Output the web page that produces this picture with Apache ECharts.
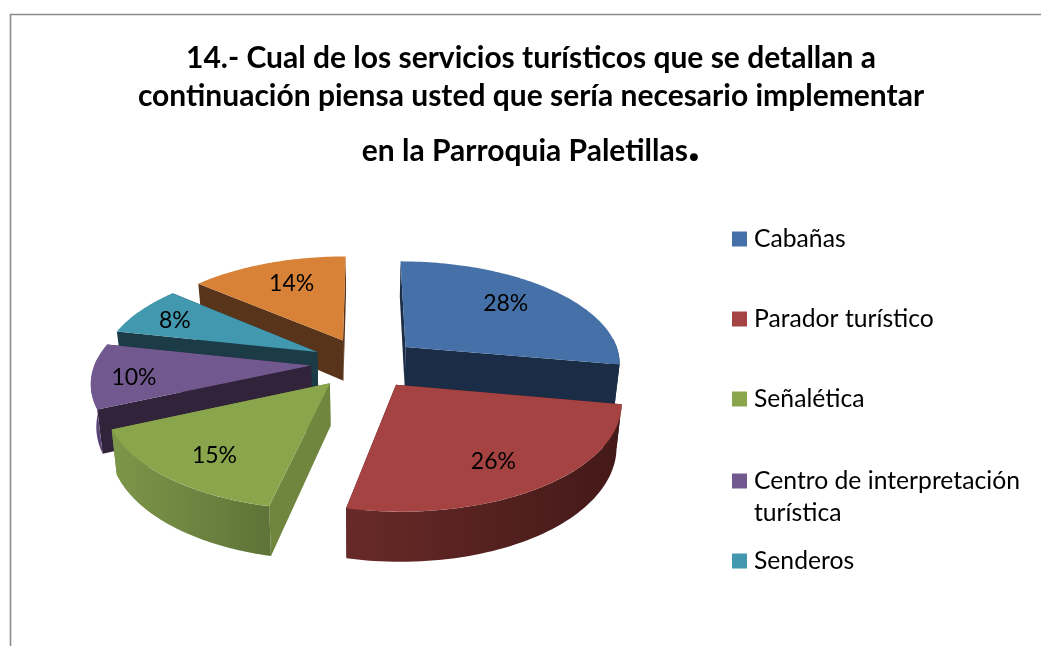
<!DOCTYPE html>
<html>
<head>
<meta charset="utf-8">
<style>html,body{margin:0;padding:0;background:#fff;overflow:hidden}#c{width:1041px;height:646px}</style>
<script src="https://cdn.jsdelivr.net/npm/echarts@6/dist/echarts.min.js"></script>
</head>
<body>
<div id="c"></div>
<script>
// ---- data ----
const titleLines = [
  '14.- Cual de los servicios turísticos que se detallan a',
  'continuación piensa usted que sería necesario implementar',
  'en la Parroquia Paletillas'
];
const categories = ['Cabañas', 'Parador turístico', 'Señalética', 'Centro de interpretación\nturística', 'Senderos', 'Otros'];
const shares = [27.8, 25.6, 15, 10, 7.8, 13.8];
const shareLabels = ['28%', '26%', '15%', '10%', '8%', '14%'];
// ---- styling ----
const topColors  = ['#4670a8', '#a54342', '#8aa64d', '#71588f', '#4298af', '#d88238'];
const cutColors  = ['#1b2d46', '#451a19', '#70863f', '#312339', '#1b3c47', '#57341a'];
const wallLeft   = ['#1b2d46', '#682a28', '#7d9749', '#5f4a80', '#1b3c47', '#57341a'];
const wallRight  = ['#1b2d46', '#431918', '#5e7338', '#55406f', '#1b3c47', '#57341a'];
const labelNudge = [[-11, 1], [-8, 3], [3, 4], [-13, 4], [-8, 0], [7, 3]];
const paintOrder = [5, 4, 3, 2, 0, 1];

const FONT = 'Lato, Carlito, "Open Sans", sans-serif';
const X0 = 365, Y0 = 363, RX = 216, RY = 102, PERSP = 0.142, EXPLODE = 0.25, DEPTH = 41.5;
const rad = d => d * Math.PI / 180;

function project(u, v, z) {
  const d = 1 + PERSP * v;
  return [X0 + RX * u / d * (1 - 0.02 * z), Y0 - RY * v / d + DEPTH * z / d];
}

function renderSlice(i, params, api) {
  const a0 = api.value(0), a1 = api.value(1);
  const m = rad((a0 + a1) / 2);
  const eu = EXPLODE * Math.sin(m), ev = EXPLODE * Math.cos(m);
  const rim = (deg, z) => project(eu + Math.sin(rad(deg)), ev + Math.cos(rad(deg)), z);
  const apex = z => project(eu, ev, z);
  const children = [];

  const cuts = [a0, a1].map(a => ({
    v: ev + Math.cos(rad(a)) / 2,
    points: [apex(0), rim(a, 0), rim(a, 1), apex(1)],
    fill: cutColors[i]
  }));
  const items = cuts.slice();

  const w0 = Math.max(a0, 85), w1 = Math.min(a1, 275);
  if (w1 > w0) {
    const up = [], low = [];
    for (let a = w0; a <= w1 + 1e-6; a += (w1 - w0) / 60) {
      up.push(rim(a, 0));
      low.unshift(rim(a, 1));
    }
    const xs = up.concat(low).map(p => p[0]);
    items.push({
      v: ev - 0.2 + Math.cos(rad((w0 + w1) / 2)),
      points: up.concat(low),
      fill: {
        type: 'linear', global: true,
        x: Math.min.apply(null, xs), y: 0, x2: Math.max.apply(null, xs), y2: 0,
        colorStops: [{offset: 0, color: wallLeft[i]}, {offset: 1, color: wallRight[i]}]
      }
    });
  }
  items.sort((p, q) => q.v - p.v).forEach(w => {
    children.push({type: 'polygon', shape: {points: w.points}, style: {fill: w.fill}});
  });

  const face = [apex(0)];
  const n = 80;
  for (let k = 0; k <= n; k++) face.push(rim(a0 + (a1 - a0) * k / n, 0));
  children.push({type: 'polygon', shape: {points: face}, style: {fill: topColors[i]}});

  const lp = project(eu + 0.75 * Math.sin(m), ev + 0.75 * Math.cos(m), 0);
  children.push({
    type: 'text',
    style: {x: lp[0] + labelNudge[i][0], y: lp[1] + labelNudge[i][1], text: shareLabels[i],
            align: 'center', verticalAlign: 'middle', fill: '#000', font: '23px ' + FONT}
  });
  return {type: 'group', children};
}

const total = shares.reduce((s, v) => s + v, 0);
let cum = 0;
const spans = shares.map(v => { const s = cum; cum += v; return [s / total * 360, cum / total * 360, v]; });

const series = paintOrder.map((i, pos) => ({
  type: 'custom',
  name: categories[i],
  coordinateSystem: 'none',
  z: 2 + pos,
  silent: true,
  animation: false,
  itemStyle: {color: topColors[i]},
  data: [spans[i]],
  renderItem: (params, api) => renderSlice(i, params, api)
}));

const legendBase = {
  orient: 'vertical', left: 732, padding: 0, icon: 'rect',
  itemWidth: 15, itemHeight: 15, selectedMode: false,
  textStyle: {fontFamily: FONT, fontSize: 24.7, color: '#000', lineHeight: 32, padding: [0, 0, 0, 2]}
};
const titleBase = {
  left: 531, textAlign: 'center', padding: 0,
  textStyle: {fontFamily: FONT, fontSize: 30, fontWeight: 'bold', color: '#000'}
};

const chart = echarts.init(document.getElementById('c'), null, {renderer: 'canvas'});
chart.setOption({
  backgroundColor: '#fff',
  animation: false,
  title: [
    Object.assign({}, titleBase, {text: titleLines[0], top: 43}),
    Object.assign({}, titleBase, {text: titleLines[1], top: 81}),
    Object.assign({}, titleBase, {
      text: '{a|' + titleLines[2] + '}{b|.}', top: 118,
      textStyle: {
        rich: {
          a: {fontFamily: FONT, fontSize: 30, fontWeight: 'bold', color: '#000'},
          b: {fontFamily: FONT, fontSize: 52, fontWeight: 'bold', color: '#000', padding: [0, 0, 14, 0]}
        }
      }
    })
  ],
  legend: [
    Object.assign({}, legendBase, {top: 223, itemGap: 48, data: categories.slice(0, 3)}),
    Object.assign({}, legendBase, {
      top: 433, data: [categories[3]],
      formatter: n => '\n' + n
    }),
    Object.assign({}, legendBase, {top: 545, data: [categories[4]]})
  ],
  graphic: [{
    type: 'rect', silent: true,
    shape: {x: 10.5, y: 14.5, width: 1200, height: 800},
    style: {fill: 'none', stroke: '#8c8c8c', lineWidth: 1.6}
  }],
  series
});
</script>
</body>
</html>
